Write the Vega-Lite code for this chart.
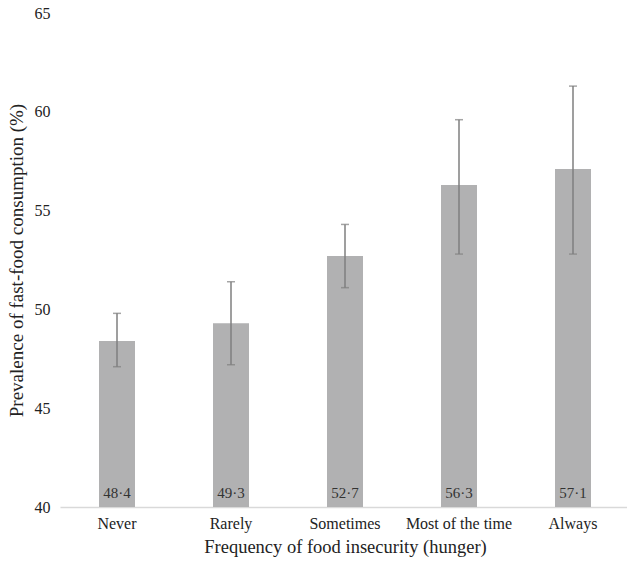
{
  "$schema": "https://vega.github.io/schema/vega-lite/v6.json",
  "autosize": {"type": "none"},
  "padding": {"left": 60, "top": 13, "right": 0, "bottom": 56},
  "width": 570,
  "height": 494,
  "background": "white",
  "config": {
    "font": "Liberation Serif",
    "view": {"stroke": null},
    "text": {"font": "Liberation Serif"},
    "axis": {"labelFont": "Liberation Serif", "titleFont": "Liberation Serif", "labelColor": "#222", "titleColor": "#222", "titleFontWeight": "normal", "grid": false}
  },
  "data": {
    "values": [
      {"freq": "Never", "value": 48.4, "lo": 47.1, "hi": 49.8, "label": "48·4"},
      {"freq": "Rarely", "value": 49.3, "lo": 47.2, "hi": 51.4, "label": "49·3"},
      {"freq": "Sometimes", "value": 52.7, "lo": 51.1, "hi": 54.3, "label": "52·7"},
      {"freq": "Most of the time", "value": 56.3, "lo": 52.8, "hi": 59.6, "label": "56·3"},
      {"freq": "Always", "value": 57.1, "lo": 52.8, "hi": 61.3, "label": "57·1"}
    ]
  },
  "encoding": {
    "x": {
      "field": "freq", "type": "nominal", "sort": null,
      "scale": {"paddingInner": 0, "paddingOuter": 0},
      "axis": {"title": "Frequency of food insecurity (hunger)", "labelFont": "Liberation Serif", "titleFont": "Liberation Serif", "labelAngle": 0, "labelFontSize": 16, "titleFontSize": 18.5, "ticks": false, "domainColor": "#d9d9d9", "domainWidth": 1.5, "labelPadding": 8, "titlePadding": 6}
    }
  },
  "layer": [
    {
      "mark": {"type": "bar", "size": 36, "color": "#b1b1b2"},
      "encoding": {
        "y": {"field": "value", "type": "quantitative", "scale": {"domain": [40, 65], "zero": false, "nice": false},
          "axis": {"title": "Prevalence of fast-food consumption (%)", "labelFont": "Liberation Serif", "titleFont": "Liberation Serif", "values": [40, 45, 50, 55, 60, 65], "labelFontSize": 16, "titleFontSize": 19, "domain": false, "ticks": false, "labelPadding": 10, "titleX": -34}},
        "y2": {"datum": 40}
      }
    },
    {
      "mark": {"type": "rule", "color": "#7f7f7f", "strokeWidth": 1.5},
      "encoding": {"y": {"field": "lo", "type": "quantitative"}, "y2": {"field": "hi"}}
    },
    {
      "mark": {"type": "tick", "color": "#7f7f7f", "size": 8, "thickness": 1.5, "orient": "horizontal"},
      "encoding": {"y": {"field": "lo", "type": "quantitative"}}
    },
    {
      "mark": {"type": "tick", "color": "#7f7f7f", "size": 8, "thickness": 1.5, "orient": "horizontal"},
      "encoding": {"y": {"field": "hi", "type": "quantitative"}}
    },
    {
      "mark": {"type": "text", "font": "Liberation Serif", "fontSize": 15, "color": "#333", "baseline": "middle", "dy": -14},
      "encoding": {"y": {"datum": 40, "type": "quantitative"}, "text": {"field": "label"}}
    }
  ]
}
